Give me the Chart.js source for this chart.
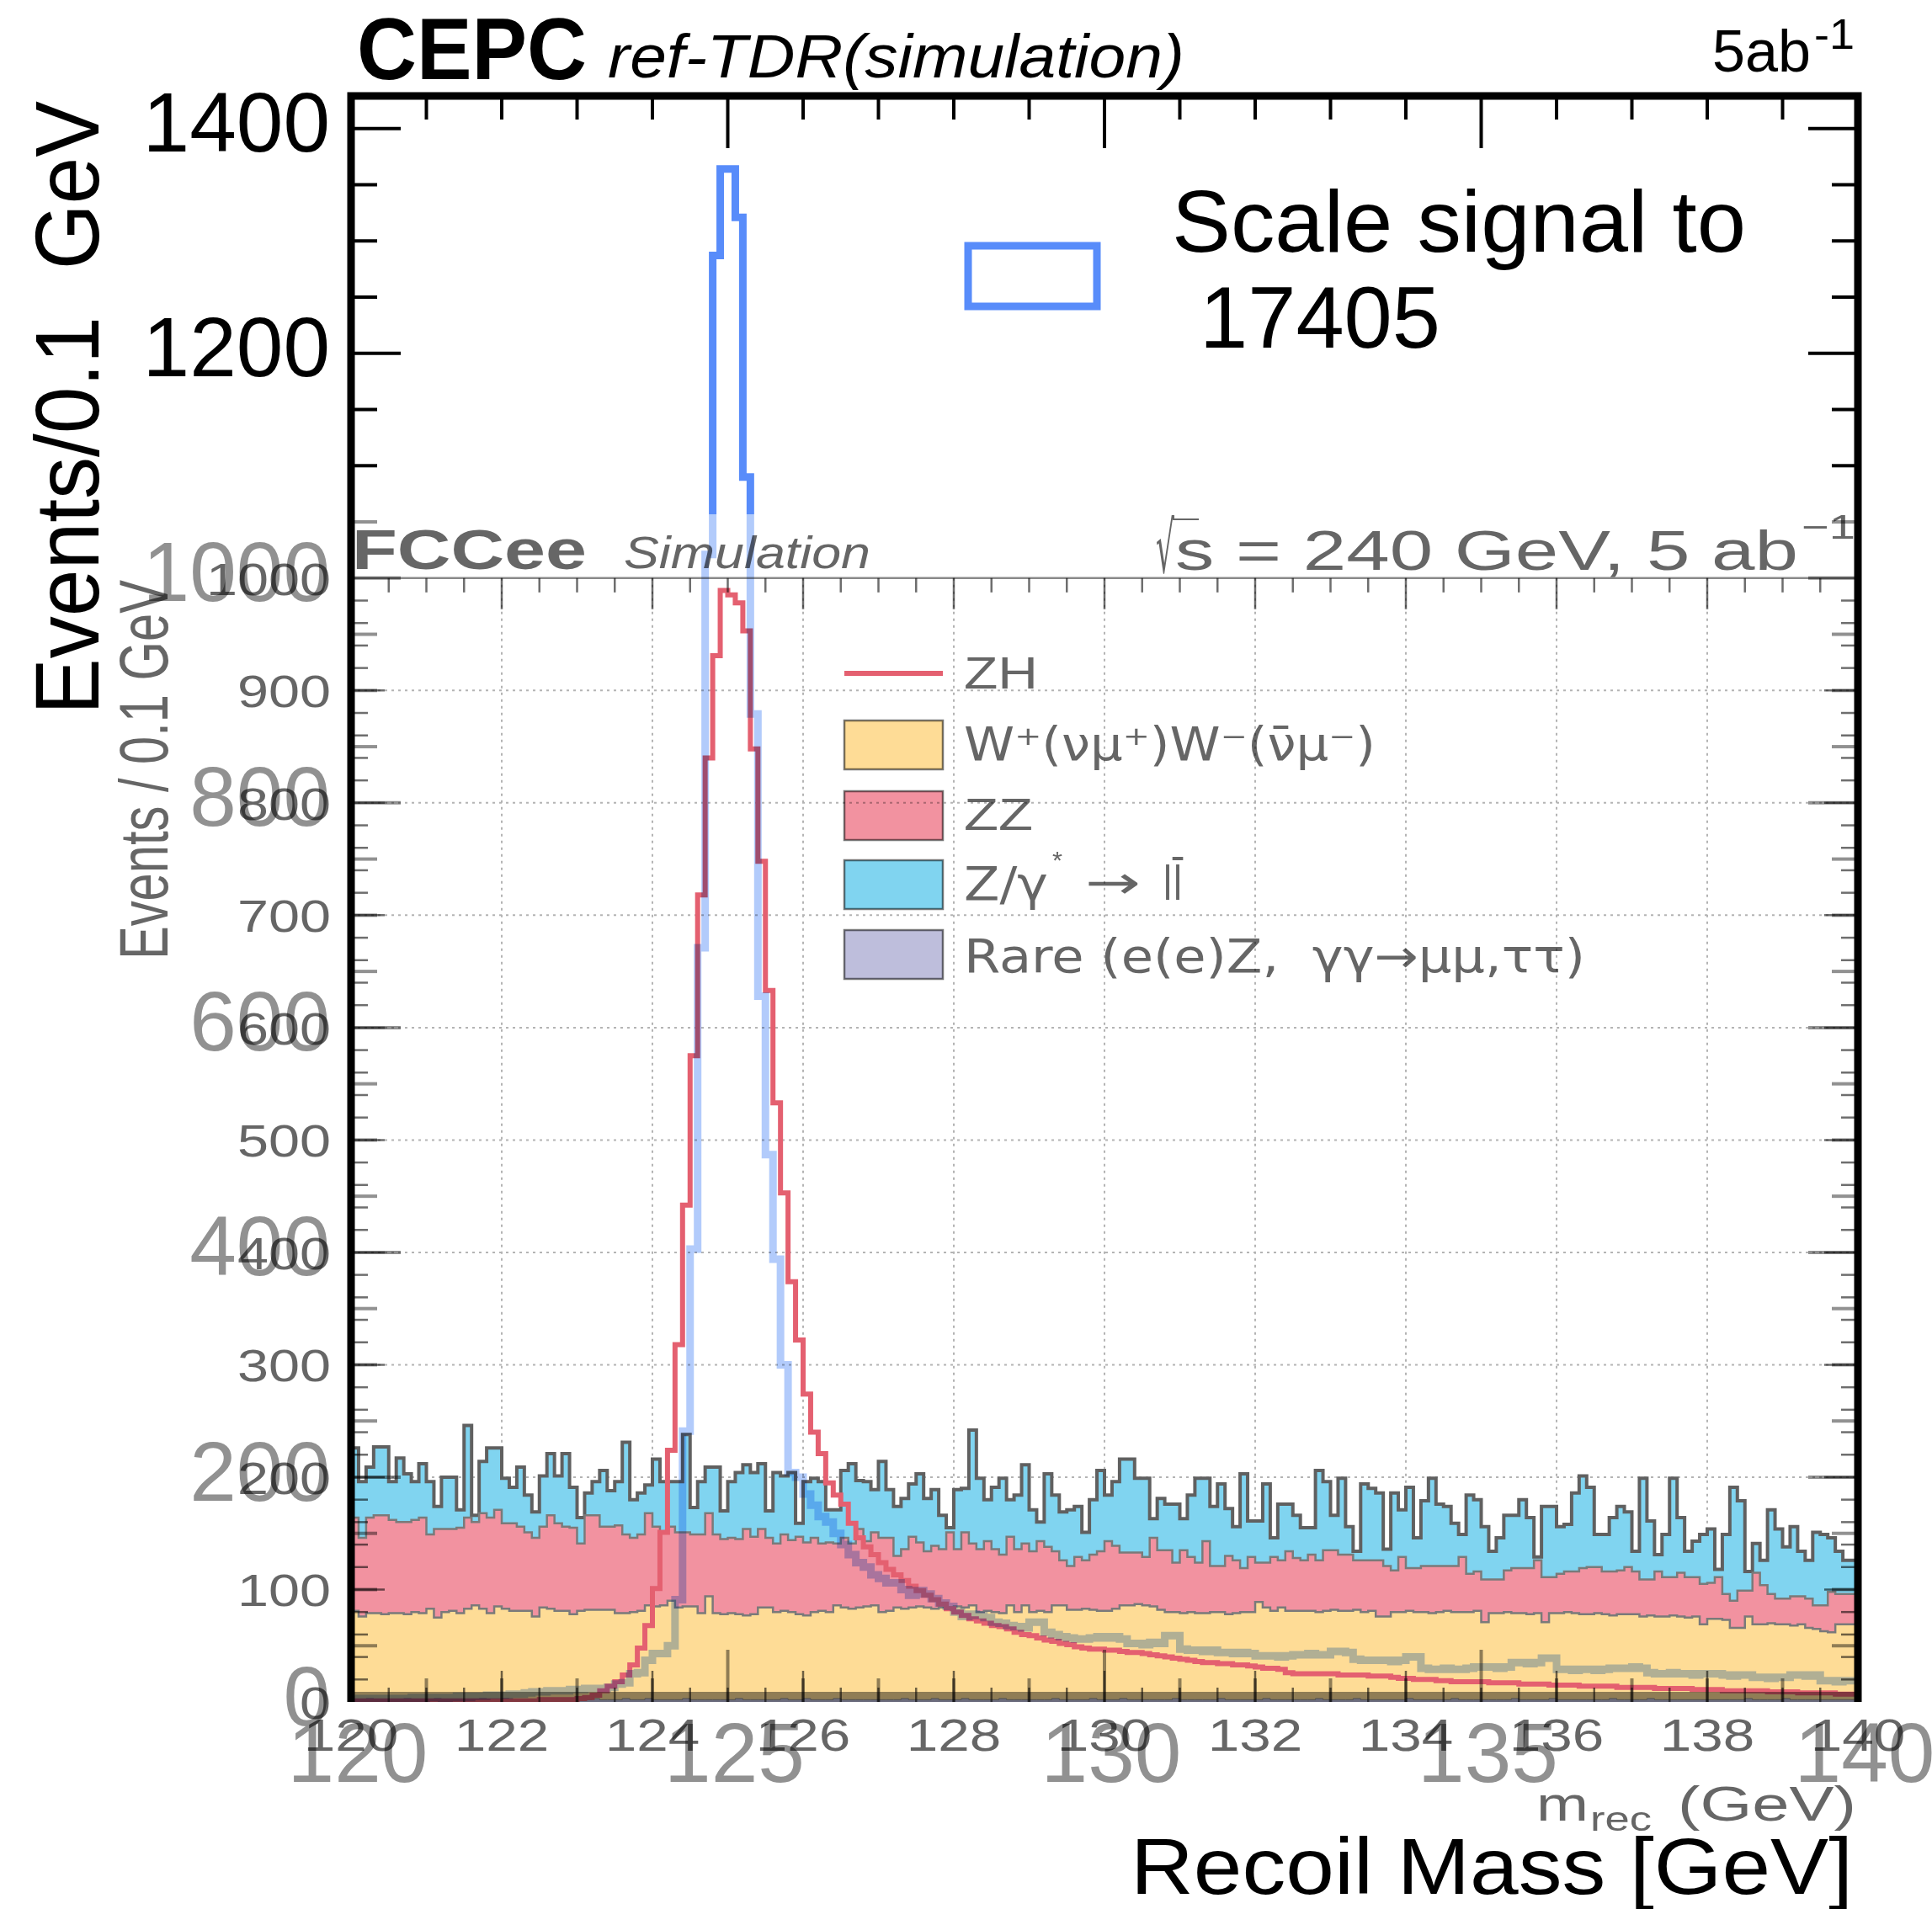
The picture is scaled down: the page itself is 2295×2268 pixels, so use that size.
<!DOCTYPE html>
<html>
<head>
<meta charset="utf-8">
<script src="https://cdn.jsdelivr.net/npm/chart.js@4.4.1/dist/chart.umd.min.js"></script>
<style>
  html, body { margin: 0; padding: 0; background: #fff; }
  canvas { display: block; }
</style>
</head>
<body>
<canvas id="grafico" width="2295" height="2268"></canvas>
<script>
// Histogramas de masa de retroceso, bins de 0.1 GeV entre 120 y 140 GeV
const binLow = 120;
const binWidth = 0.1;

// Señal CEPC (escalada a 17405)
const cepcSignal = [
  2, 2, 3, 2, 3, 3, 2, 3, 3, 4,
  3, 4, 4, 3, 4, 5, 4, 5, 5, 6,
  6, 6, 7, 7, 8, 9, 9, 10, 10, 10,
  11, 11, 12, 12, 12, 13, 16, 17, 25, 26,
  37, 43, 43, 50, 91, 241, 403, 671, 1021, 1287,
  1364, 1364, 1321, 1090, 879, 628, 487, 394, 300, 204,
  200, 185, 175, 165, 160, 150, 140, 131, 124, 120,
  113, 110, 106, 106, 100, 95, 99, 96, 92, 88,
  85, 80, 76, 78, 77, 75, 71, 70, 68, 67,
  66, 71, 71, 62, 60, 58, 57, 56, 56, 57,
  58, 57, 58, 56, 52, 52, 51, 53, 52, 59,
  59, 47, 46, 46, 45, 46, 44, 44, 43, 44,
  43, 41, 41, 41, 40, 41, 42, 42, 43, 42,
  42, 45, 45, 44, 38, 37, 37, 37, 37, 36,
  37, 40, 40, 30, 29, 29, 30, 29, 29, 30,
  31, 31, 31, 30, 31, 35, 35, 34, 35, 39,
  39, 29, 29, 28, 29, 29, 28, 29, 30, 30,
  30, 31, 30, 26, 25, 25, 26, 25, 25, 24,
  25, 25, 25, 24, 23, 24, 24, 22, 22, 21,
  22, 22, 24, 24, 23, 24, 19, 19, 18, 19
];

// FCCee ZH
const zh = [
  1, 1, 1, 1, 1, 1, 1, 1, 1, 1,
  1, 1, 1, 1, 1, 1, 1, 1, 1, 1,
  1, 1, 1, 1, 1, 1, 2, 2, 2, 2,
  2, 3, 4, 6, 10, 14, 18, 24, 33, 48,
  68, 101, 151, 224, 318, 442, 575, 718, 840, 931,
  989, 985, 978, 953, 848, 748, 633, 533, 453, 374,
  322, 274, 240, 221, 195, 184, 176, 159, 146, 138,
  131, 124, 118, 113, 108, 103, 99, 95, 91, 87,
  83, 80, 77, 74, 72, 70, 68, 67, 65, 62,
  60, 59, 57, 55, 54, 52, 51, 49, 48, 47,
  47, 46, 46, 45, 44, 44, 43, 42, 41, 40,
  39, 38, 37, 36, 35, 35, 34, 34, 33, 33,
  32, 31, 30, 30, 29, 26, 25, 25, 25, 25,
  25, 25, 24, 24, 24, 24, 23, 23, 23, 22,
  21, 21, 20, 20, 20, 19, 19, 18, 18, 18,
  18, 18, 17, 17, 17, 17, 16, 16, 16, 16,
  15, 15, 15, 15, 14, 14, 14, 14, 14, 13,
  13, 13, 13, 13, 12, 12, 12, 12, 12, 11,
  11, 11, 11, 10, 10, 10, 10, 10, 10, 9,
  9, 9, 9, 8, 8, 8, 8, 8, 7, 7
];

// Fondos apilados de FCCee: altura acumulada de cada capa
const rareTop = [
  2, 2, 2, 3, 2, 2, 2, 2, 3, 2,
  2, 2, 3, 2, 2, 2, 2, 2, 3, 2,
  2, 3, 2, 2, 2, 2, 3, 2, 2, 2,
  2, 2, 2, 3, 2, 2, 2, 3, 2, 2,
  3, 2, 2, 2, 2, 3, 2, 2, 2, 2,
  2, 2, 3, 2, 2, 2, 2, 2, 3, 2,
  2, 3, 2, 2, 2, 3, 2, 2, 2, 2,
  2, 2, 2, 2, 3, 2, 2, 2, 3, 2,
  2, 2, 3, 2, 2, 2, 2, 3, 2, 2,
  2, 2, 2, 2, 3, 2, 2, 2, 2, 3,
  2, 2, 2, 3, 2, 2, 2, 2, 2, 2,
  3, 2, 2, 2, 2, 2, 3, 2, 2, 2,
  2, 2, 3, 2, 2, 2, 2, 2, 2, 3,
  2, 2, 2, 2, 3, 2, 2, 2, 2, 2,
  2, 3, 2, 2, 2, 2, 2, 3, 2, 2,
  2, 2, 2, 2, 2, 3, 2, 2, 2, 2,
  3, 2, 2, 2, 2, 2, 2, 2, 3, 2,
  2, 2, 2, 3, 2, 2, 2, 2, 2, 2,
  2, 2, 2, 2, 2, 2, 3, 2, 2, 2,
  2, 3, 2, 2, 2, 2, 2, 2, 2, 2
];

const wwTop = [
  81, 81, 76, 79, 79, 78, 79, 79, 78, 80,
  79, 83, 75, 80, 81, 79, 83, 86, 83, 79,
  85, 83, 81, 81, 81, 76, 84, 83, 81, 81,
  78, 81, 82, 82, 82, 82, 79, 79, 80, 81,
  86, 85, 86, 90, 84, 85, 85, 79, 94, 79,
  78, 79, 78, 77, 78, 84, 84, 80, 81, 80,
  78, 77, 80, 81, 80, 86, 84, 83, 84, 85,
  86, 80, 81, 84, 83, 84, 85, 84, 83, 84,
  84, 85, 84, 86, 80, 81, 80, 79, 86, 80,
  86, 80, 81, 80, 86, 86, 82, 82, 83, 82,
  81, 81, 83, 86, 86, 87, 86, 85, 82, 80,
  80, 79, 80, 79, 79, 80, 80, 78, 79, 80,
  80, 89, 84, 81, 84, 81, 81, 81, 81, 80,
  81, 82, 81, 81, 82, 80, 81, 76, 76, 80,
  80, 81, 80, 80, 79, 80, 81, 80, 80, 80,
  81, 71, 79, 79, 80, 79, 79, 78, 79, 71,
  79, 79, 80, 79, 78, 78, 79, 78, 77, 78,
  78, 78, 76, 77, 76, 76, 77, 76, 75, 76,
  69, 74, 74, 73, 66, 66, 76, 69, 69, 70,
  69, 69, 68, 69, 66, 65, 63, 62, 69, 69
];

const zzTop = [
  164, 164, 146, 164, 166, 166, 162, 160, 160, 162,
  164, 149, 154, 154, 154, 155, 164, 160, 168, 164,
  171, 159, 159, 156, 151, 146, 156, 166, 159, 156,
  155, 141, 166, 166, 156, 156, 157, 149, 146, 149,
  168, 156, 151, 156, 151, 151, 149, 149, 168, 149,
  145, 146, 145, 154, 147, 154, 146, 141, 149, 144,
  147, 142, 146, 141, 142, 141, 146, 141, 154, 143,
  151, 146, 146, 130, 136, 147, 142, 134, 139, 136,
  151, 136, 151, 141, 136, 143, 136, 131, 147, 136,
  141, 134, 143, 138, 134, 126, 121, 129, 126, 131,
  134, 143, 139, 133, 133, 133, 129, 146, 135, 135,
  124, 135, 129, 124, 143, 121, 121, 130, 126, 119,
  129, 124, 124, 129, 126, 134, 128, 126, 131, 126,
  135, 135, 131, 131, 126, 126, 126, 126, 121, 117,
  129, 119, 119, 121, 121, 121, 121, 121, 129, 114,
  116, 109, 109, 109, 117, 119, 119, 119, 126, 111,
  111, 114, 116, 116, 119, 120, 120, 116, 116, 117,
  120, 116, 109, 109, 116, 111, 111, 115, 111, 111,
  105, 106, 111, 96, 90, 99, 99, 115, 104, 96,
  92, 92, 94, 94, 92, 86, 86, 98, 96, 96
];

const zgTop = [
  226, 226, 196, 209, 227, 227, 196, 217, 203, 196,
  212, 196, 174, 200, 200, 171, 246, 166, 214, 226,
  226, 199, 191, 209, 184, 169, 201, 221, 201, 221,
  191, 164, 186, 196, 206, 188, 196, 231, 180, 186,
  193, 216, 196, 196, 196, 238, 173, 196, 209, 209,
  170, 196, 204, 211, 204, 212, 170, 204, 201, 204,
  159, 196, 199, 196, 171, 171, 206, 212, 197, 196,
  189, 214, 189, 174, 181, 194, 203, 181, 189, 166,
  155, 189, 190, 242, 199, 180, 191, 199, 180, 184,
  211, 171, 160, 203, 184, 169, 171, 174, 151, 180,
  206, 184, 196, 216, 216, 199, 199, 163, 181, 176,
  176, 163, 184, 199, 199, 174, 194, 172, 156, 203,
  161, 161, 194, 146, 176, 176, 166, 155, 155, 206,
  196, 166, 199, 156, 134, 194, 190, 186, 136, 186,
  171, 191, 146, 179, 199, 176, 174, 159, 149, 184,
  180, 156, 134, 146, 166, 166, 180, 164, 129, 174,
  174, 156, 158, 186, 201, 191, 149, 149, 164, 174,
  169, 134, 199, 161, 131, 149, 199, 164, 134, 143,
  149, 154, 118, 149, 191, 179, 116, 141, 126, 171,
  154, 138, 156, 134, 126, 151, 149, 146, 134, 126
];

// Etiquetas de los ejes
const cepcXTicks = [120, 125, 130, 135, 140];
const cepcYTicks = [0, 200, 400, 600, 800, 1000, 1200, 1400];
const fccXTicks = [120, 122, 124, 126, 128, 130, 132, 134, 136, 138, 140];
const fccYTicks = [0, 100, 200, 300, 400, 500, 600, 700, 800, 900, 1000];

// Colores
const azul = "rgb(88,140,250)";
const azulTenue = "rgb(178,203,251)";
const rojo = "rgb(228,96,112)";
const amarillo = "#fedc96";
const rosa = "#f292a0";
const celeste = "#80d4f0";
const lila = "#bebedc";
const grisFCC = "#666666";
const grisTenue = "rgb(145,145,145)";

// a partir de esta altura (px) la figura FCCee tapa a la CEPC
const limiteVelo = 611;

// convierte los valores de un histograma en puntos escalonados
function pasos(valores) {
  const pts = valores.map((v, i) => ({ x: binLow + i * binWidth, y: v }));
  pts.push({ x: binLow + valores.length * binWidth, y: valores[valores.length - 1] });
  return pts;
}

// texto con ancho y alto de mayúsculas forzados
function texto(ctx, s, x, y, o) {
  const size = o.size || 50;
  ctx.save();
  ctx.font = `${o.estilo || "normal"} ${o.peso || "normal"} ${size}px "${o.familia || "Liberation Sans"}"`;
  ctx.fillStyle = o.color || "#000";
  ctx.textAlign = "left";
  ctx.textBaseline = "alphabetic";
  const natural = ctx.measureText(s).width;
  const sx = o.ancho ? o.ancho / natural : 1;
  const sy = o.alto ? o.alto / (size * 0.716) : 1;
  const w = natural * sx;
  ctx.translate(x, y);
  if (o.giro) ctx.rotate(o.giro);
  if (o.alinear === "right") ctx.translate(-w, 0);
  if (o.alinear === "center") ctx.translate(-w / 2, 0);
  ctx.scale(sx, sy);
  ctx.fillText(s, 0, 0);
  ctx.restore();
}

function linea(ctx, x1, y1, x2, y2) {
  ctx.beginPath();
  ctx.moveTo(x1, y1);
  ctx.lineTo(x2, y2);
  ctx.stroke();
}

const capas = {
  id: "capas",
  beforeDraw(chart) {
    const ctx = chart.ctx;
    ctx.globalCompositeOperation = "source-over";
    ctx.save();
    ctx.fillStyle = "#fff";
    ctx.fillRect(0, 0, chart.width, chart.height);
    ctx.restore();
  },
  // rejilla punteada de FCCee, debajo de los rellenos
  beforeDatasetsDraw(chart) {
    const ctx = chart.ctx;
    const xs = chart.scales.x, ys = chart.scales.y;
    const { left, right, bottom } = chart.chartArea;
    ctx.save();
    ctx.strokeStyle = "#b4b4b4";
    ctx.lineWidth = 2;
    ctx.setLineDash([3, 5]);
    fccXTicks.slice(1, -1).forEach((v) => {
      const x = xs.getPixelForValue(v);
      linea(ctx, x, ys.getPixelForValue(1000), x, bottom);
    });
    fccYTicks.slice(1, -1).forEach((v) => {
      const y = ys.getPixelForValue(v);
      linea(ctx, left, y, right, y);
    });
    ctx.restore();
  },
  beforeDatasetDraw(chart, args) {
    if (chart.data.datasets[args.index].mezcla) {
      chart.ctx.save();
      chart.ctx.globalCompositeOperation = "multiply";
    }
  },
  afterDatasetDraw(chart, args) {
    if (chart.data.datasets[args.index].mezcla) chart.ctx.restore();
  },
  afterDraw(chart) {
    const ctx = chart.ctx;
    const xs = chart.scales.x, ys = chart.scales.y;
    const { left, right, top, bottom } = chart.chartArea;
    const px = (v) => xs.getPixelForValue(v);
    const py = (v) => ys.getPixelForValue(v);

    // ---- figura FCCee (se multiplica sobre la CEPC) ----
    ctx.save();
    ctx.globalCompositeOperation = "multiply";
    const yTopF = py(1000);
    ctx.strokeStyle = "#8a8a8a";
    ctx.lineWidth = 2.5;
    linea(ctx, left, yTopF, right, yTopF);

    ctx.strokeStyle = "#6e6e6e";
    for (let i = 1; i < 40; i++) {
      const x = px(120 + i * 0.5);
      const largo = i % 4 === 0 ? 37 : 17;
      linea(ctx, x, bottom, x, bottom - largo);
      linea(ctx, x, yTopF, x, yTopF + largo);
    }
    for (let i = 1; i < 50; i++) {
      const y = py(i * 20);
      const largo = i % 5 === 0 ? 40 : 20;
      linea(ctx, left, y, left + largo, y);
      linea(ctx, right, y, right - largo, y);
    }

    fccYTicks.forEach((v) => {
      const s = String(v);
      texto(ctx, s, 393, py(v) + 20, { size: 54, ancho: s.length * 37, alto: 39, color: grisFCC, alinear: "right" });
    });
    fccXTicks.forEach((v) => {
      const s = String(v);
      texto(ctx, s, px(v), 2080, { size: 54, ancho: s.length * 37.5, alto: 39, color: grisFCC, alinear: "center" });
    });

    texto(ctx, "FCCee", 418, 676, { size: 66, peso: "bold", ancho: 279, alto: 48, color: grisFCC });
    texto(ctx, "Simulation", 741, 675, { size: 54, estilo: "italic", ancho: 293, alto: 39, color: grisFCC });
    texto(ctx, "\u221a", 1373, 680, { size: 70, familia: "DejaVu Sans", ancho: 22, alto: 60, color: grisFCC });
    ctx.strokeStyle = grisFCC;
    ctx.lineWidth = 2;
    linea(ctx, 1393, 617, 1424, 617);
    texto(ctx, "s = 240 GeV, 5 ab", 1396, 677, { size: 66, ancho: 740, alto: 48, color: grisFCC });
    texto(ctx, "\u22121", 2140, 640, { size: 40, ancho: 64, alto: 29, color: grisFCC });

    texto(ctx, "Events / 0.1 GeV", 199, 1140, { size: 55, ancho: 451, alto: 59, color: grisFCC, giro: -Math.PI / 2 });
    texto(ctx, "m", 1825, 2163, { size: 56, ancho: 62, alto: 41, color: grisFCC });
    texto(ctx, "rec", 1889, 2175, { size: 40, ancho: 73, alto: 29, color: grisFCC });
    texto(ctx, "(GeV)", 1993, 2163, { size: 56, ancho: 212, alto: 41, color: grisFCC });

    // leyenda FCCee
    ctx.strokeStyle = rojo;
    ctx.lineWidth = 6;
    linea(ctx, 1003, 800, 1120, 800);
    [[856, amarillo], [940, rosa], [1022, celeste], [1105, lila]].forEach(([y, c]) => {
      ctx.fillStyle = c;
      ctx.fillRect(1003, y, 117, 58);
      ctx.strokeStyle = "#777";
      ctx.lineWidth = 2.5;
      ctx.strokeRect(1003, y, 117, 58);
    });
    texto(ctx, "ZH", 1145, 818, { size: 54, ancho: 88, alto: 39, color: grisFCC });
    texto(ctx, "W\u207a(\u03bd\u03bc\u207a)W\u207b(\u03bd\u0304\u03bc\u207b)", 1145, 903, { size: 54, familia: "DejaVu Sans", ancho: 489, alto: 39, color: grisFCC });
    texto(ctx, "ZZ", 1145, 986, { size: 54, ancho: 82, alto: 39, color: grisFCC });
    texto(ctx, "Z/\u03b3", 1145, 1069, { size: 54, familia: "DejaVu Sans", ancho: 100, alto: 39, color: grisFCC });
    texto(ctx, "*", 1250, 1032, { size: 30, ancho: 12, color: grisFCC });
    texto(ctx, "\u2192", 1289, 1067, { size: 54, familia: "DejaVu Sans", ancho: 66, color: grisFCC });
    texto(ctx, "ll\u0304", 1381, 1069, { size: 54, familia: "DejaVu Sans", ancho: 24, alto: 39, color: grisFCC });
    texto(ctx, "Rare (e(e)Z,  \u03b3\u03b3\u2192\u03bc\u03bc,\u03c4\u03c4)", 1145, 1155, { size: 54, familia: "DejaVu Sans", ancho: 738, alto: 39, color: grisFCC });

    // ---- partes de la figura CEPC que quedan tapadas (atenuadas) ----
    ctx.fillStyle = grisTenue;
    ctx.fillRect(left, bottom - 12, right - left, 12);
    ctx.strokeStyle = grisTenue;
    ctx.lineWidth = 4;
    for (let v = 121; v < 140; v++) {
      const largo = v % 5 === 0 ? 62 : 28;
      linea(ctx, px(v), bottom, px(v), bottom - largo);
    }
    for (let v = 50; v <= 1050; v += 50) {
      const largo = v % 200 === 0 ? 59 : 31;
      linea(ctx, left, py(v), left + largo, py(v));
      linea(ctx, right, py(v), right - largo, py(v));
    }
    ctx.restore();

    // ---- figura CEPC visible ----
    ctx.save();
    ctx.globalCompositeOperation = "source-over";
    ctx.strokeStyle = "#000";
    ctx.lineWidth = 4;
    for (let v = 121; v < 140; v++) {
      const largo = v % 5 === 0 ? 62 : 28;
      linea(ctx, px(v), top, px(v), top + largo);
    }
    for (let v = 1100; v <= 1400; v += 50) {
      const largo = v % 200 === 0 ? 59 : 31;
      linea(ctx, left, py(v), left + largo, py(v));
      linea(ctx, right, py(v), right - largo, py(v));
    }
    ctx.lineWidth = 9;
    ctx.beginPath();
    ctx.moveTo(left, bottom);
    ctx.lineTo(left, top);
    ctx.lineTo(right, top);
    ctx.lineTo(right, bottom);
    ctx.stroke();

    texto(ctx, "CEPC", 424, 94, { size: 103, peso: "bold", ancho: 273, alto: 74 });
    texto(ctx, "ref-TDR(simulation)", 722, 92, { size: 70, estilo: "italic", ancho: 685, alto: 52 });
    texto(ctx, "5ab", 2034, 85, { size: 70, ancho: 117, alto: 50 });
    texto(ctx, "-1", 2155, 58, { size: 50, ancho: 48, alto: 36 });

    ctx.strokeStyle = azul;
    ctx.lineWidth = 9;
    ctx.strokeRect(1150, 292, 153, 72);
    texto(ctx, "Scale signal to", 1392, 299, { size: 103, ancho: 682, alto: 74 });
    texto(ctx, "17405", 1425, 413, { size: 103, ancho: 286, alto: 74 });

    texto(ctx, "Events/0.1  GeV", 117, 849, { size: 107, ancho: 729, alto: 77, giro: -Math.PI / 2 });
    texto(ctx, "Recoil Mass [GeV]", 1343, 2250, { size: 92, ancho: 858, alto: 68 });
    ctx.restore();
  }
};

new Chart(document.getElementById("grafico"), {
  type: "line",
  data: {
    datasets: [
      {
        label: "CEPC signal",
        data: pasos(cepcSignal),
        borderColor: azul,
        borderWidth: 9,
        stepped: "after",
        fill: false,
        order: 0,
        clip: { left: 0, top: 0, right: 0, bottom: -(2022 - limiteVelo) },
      },
      {
        label: "CEPC signal (covered)",
        data: pasos(cepcSignal),
        borderColor: azulTenue,
        borderWidth: 9,
        stepped: "after",
        fill: false,
        order: 1,
        mezcla: "multiply",
        clip: { left: 0, top: -(limiteVelo - 114), right: 0, bottom: 0 },
      },
      {
        label: "ZH",
        data: pasos(zh),
        borderColor: rojo,
        borderWidth: 6,
        stepped: "after",
        fill: false,
        order: 2,
      },
      {
        label: "Rare",
        data: pasos(rareTop),
        borderColor: "#888",
        borderWidth: 1,
        backgroundColor: lila,
        stepped: "after",
        fill: "origin",
        order: 3,
      },
      {
        label: "WW",
        data: pasos(wwTop),
        borderColor: "#7a7a7a",
        borderWidth: 2.5,
        backgroundColor: amarillo,
        stepped: "after",
        fill: "-1",
        order: 4,
      },
      {
        label: "ZZ",
        data: pasos(zzTop),
        borderColor: "#7a7a7a",
        borderWidth: 2.5,
        backgroundColor: rosa,
        stepped: "after",
        fill: "-1",
        order: 5,
      },
      {
        label: "Z/gamma",
        data: pasos(zgTop),
        borderColor: "#606060",
        borderWidth: 4,
        backgroundColor: celeste,
        stepped: "after",
        fill: "-1",
        order: 6,
      },
    ],
  },
  options: {
    responsive: false,
    animation: false,
    devicePixelRatio: 1,
    layout: { padding: { left: 0, top: 114, right: 88, bottom: 0 } },
    plugins: {
      legend: { display: false },
      tooltip: { enabled: false },
      title: { display: false },
    },
    elements: {
      point: { radius: 0 },
      line: { tension: 0, borderJoinStyle: "miter", borderCapStyle: "butt" },
    },
    scales: {
      x: {
        type: "linear",
        position: "bottom",
        min: 120,
        max: 140,
        afterBuildTicks: (s) => {
          s.ticks = cepcXTicks.map((v) => ({ value: v }));
        },
        afterFit: (s) => {
          s.height = 246;
          s.paddingLeft = 0;
          s.paddingRight = 0;
        },
        grid: { display: false, drawTicks: false },
        border: { display: false },
        ticks: {
          autoSkip: false,
          maxRotation: 0,
          padding: 7,
          labelOffset: 8,
          color: grisTenue,
          font: { family: "Liberation Sans", size: 100 },
          callback: (v) => String(v),
        },
      },
      y: {
        type: "linear",
        position: "left",
        min: 0,
        max: 1429,
        afterBuildTicks: (s) => {
          s.ticks = cepcYTicks.map((v) => ({ value: v }));
        },
        afterFit: (s) => {
          s.width = 417;
          s.paddingTop = 0;
          s.paddingBottom = 0;
        },
        grid: { display: false, drawTicks: false },
        border: { display: false },
        ticks: {
          autoSkip: false,
          padding: 25,
          color: (c) => (c.tick && c.tick.value >= 1200 ? "#000" : grisTenue),
          font: { family: "Liberation Sans", size: 100 },
          callback: (v) => String(v),
        },
      },
    },
  },
  plugins: [capas],
});
</script>
</body>
</html>
